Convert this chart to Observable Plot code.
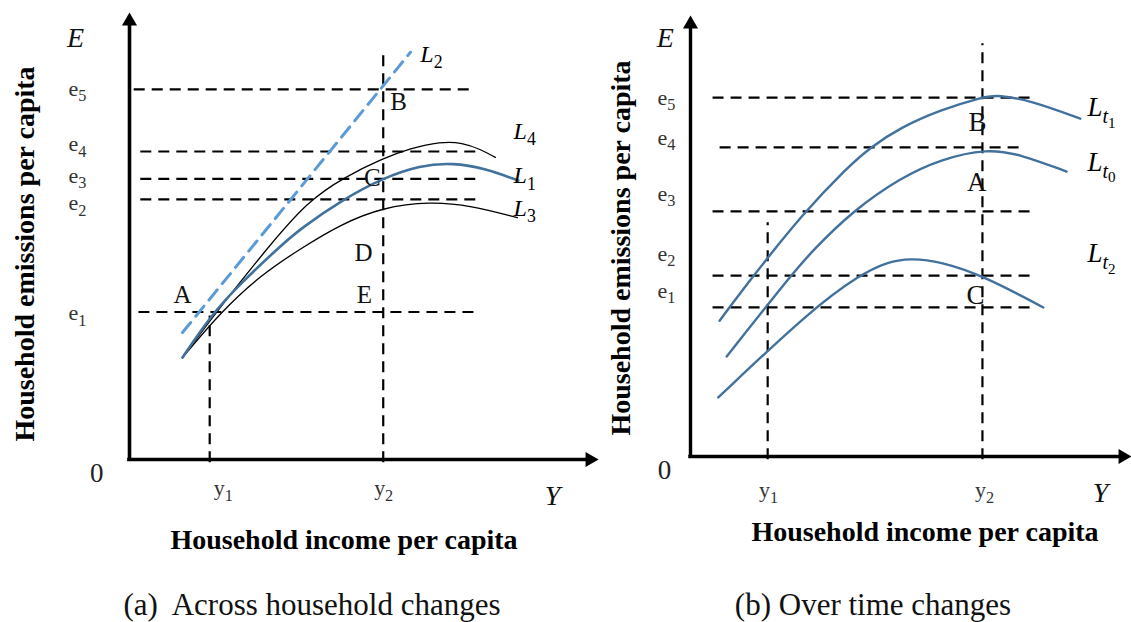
<!DOCTYPE html>
<html>
<head>
<meta charset="utf-8">
<script src="https://cdn.jsdelivr.net/npm/d3@7"></script>
<script src="https://cdn.jsdelivr.net/npm/@observablehq/plot@0.6"></script>
<style>
  body { margin: 0; background: #fff; }
  #root { position: relative; width: 1131px; height: 622px; overflow: hidden; font-family: "Liberation Serif", "DejaVu Serif", serif; color: #000; }
  .panel { position: absolute; top: 0; }
  .panel svg { overflow: visible; }
  .title { position: absolute; font-weight: bold; font-size: 28px; white-space: nowrap; transform: translate(-50%, -50%); line-height: 1; }
  .ytitle { position: absolute; font-weight: bold; font-size: 28px; white-space: nowrap; transform: translate(-50%, -50%) rotate(-90deg); line-height: 1; }
  .caption { position: absolute; font-size: 31px; white-space: pre; transform: translate(-50%, -50%); line-height: 1; color: #111; }
</style>
</head>
<body>
<div id="root"></div>
<script>
// ---------- Panel (a): across household changes ----------
const aLevelNames = ["e_1", "e_2", "e_3", "e_4", "e_5"];
const aLevels = [3.30, 5.82, 6.28, 6.89, 8.28];
const aLevelLabelPos = [3.27, 5.73, 6.35, 7.05, 8.30];
const aLevelStart = [0.19, 0.23, 0.23, 0.23, 0.09];
const aLevelEnd = [7.44, 7.44, 7.44, 7.44, 7.38];
const aIncome = [1.71, 5.41];
const aIncomeTop = [3.22, 9.19];
const aXTickPos = [2.00, 5.42];
const aXTickNames = ["y_1", "y_2"];
const aL2 = [[1.13, 2.84], [5.99, 9.11]];
const aL1 = [[1.13, 2.28], [1.73, 3.22], [2.37, 3.94], [3.16, 4.72], [3.65, 5.17], [4.56, 5.82], [5.39, 6.29], [6.20, 6.58], [6.89, 6.64], [7.59, 6.51], [8.29, 6.24]];
const aL4 = [[1.13, 2.28], [1.83, 3.27], [2.86, 4.63], [3.80, 5.79], [4.61, 6.33], [5.39, 6.73], [5.99, 6.96], [6.63, 7.11], [7.10, 7.09], [7.48, 6.94], [7.80, 6.76]];
const aL3 = [[1.13, 2.28], [1.94, 3.29], [2.79, 4.12], [3.65, 4.72], [4.50, 5.26], [5.39, 5.64], [6.42, 5.77], [7.27, 5.68], [8.27, 5.41]];
const aPointNames = ["A", "B", "C", "D", "E"];
const aPointX = [1.13, 5.74, 5.18, 4.99, 5.01];
const aPointY = [3.67, 7.99, 6.29, 4.63, 3.67];
const aCurveNames = ["L_2", "L_4", "L_1", "L_3"];
const aCurveLabelX = [6.20, 8.19, 8.19, 8.19];
const aCurveLabelY = [9.06, 7.34, 6.35, 5.62];
const aAxisNames = ["E", "Y"];
const aAxisNameX = [-1.15, 9.02];
const aAxisNameY = [9.42, -0.81];
const aOriginX = [-0.70];
const aOriginY = [-0.31];

// ---------- Panel (b): over time changes ----------
const bLevelNames = ["e_1", "e_2", "e_3", "e_4", "e_5"];
const bLevels = [3.38, 4.10, 5.56, 7.01, 8.14];
const bLevelLabelPos = [3.76, 4.60, 5.96, 7.23, 8.14];
const bLevelStart = [0.50, 0.50, 0.50, 0.66, 0.50];
const bLevelEnd = [7.76, 7.76, 7.76, 7.53, 7.76];
const bIncome = [1.75, 6.62];
const bIncomeTop = [5.31, 9.37];
const bXTickPos = [1.77, 6.67];
const bXTickNames = ["y_1", "y_2"];
const bLt1 = [[0.66, 3.08], [1.41, 4.08], [2.56, 5.52], [3.55, 6.55], [4.08, 7.01], [4.76, 7.46], [5.67, 7.86], [6.62, 8.15], [6.98, 8.20], [7.71, 8.07], [8.84, 7.66]];
const bLt0 = [[0.82, 2.27], [2.27, 4.10], [2.77, 4.67], [3.67, 5.56], [4.76, 6.32], [5.67, 6.74], [6.73, 6.98], [7.48, 6.85], [8.53, 6.46]];
const bLt2 = [[0.63, 1.34], [2.77, 3.36], [3.85, 4.12], [4.42, 4.40], [4.99, 4.50], [5.67, 4.42], [6.64, 4.10], [8.00, 3.38]];
const bPointNames = ["B", "A", "C"];
const bPointX = [6.51, 6.49, 6.46];
const bPointY = [7.57, 6.21, 3.65];
const bCurveNames = ["L_t_1", "L_t_0", "L_t_2"];
const bCurveLabelX = [9.00, 9.00, 9.00];
const bCurveLabelY = [7.91, 6.67, 4.60];
const bAxisNames = ["E", "Y"];
const bAxisNameX = [-0.57, 9.30];
const bAxisNameY = [9.50, -0.82];
const bOriginX = [-0.59];
const bOriginY = [-0.32];

const axisMax = 10;
const blueDark = "#41719c";
const blueLight = "#5b9bd5";
const serif = "Liberation Serif";

function panelMarks(cfg) {
  const levelMap = new Map(cfg.levelLabelPos.map((v, i) => [v, cfg.levelNames[i]]));
  const xTickMap = new Map(cfg.xTickPos.map((v, i) => [v, cfg.xTickNames[i]]));
  return [
    Plot.link(cfg.levels, {
      x1: (d, i) => cfg.levelStart[i], x2: (d, i) => cfg.levelEnd[i],
      y1: d => d, y2: d => d,
      stroke: "#000", strokeWidth: 2.2, strokeDasharray: "11,7"
    }),
    Plot.link(cfg.income, {
      x1: d => d, x2: d => d, y1: () => -0.06, y2: (d, i) => cfg.incomeTop[i],
      stroke: "#000", strokeWidth: 2.2, strokeDasharray: "11,7"
    }),
    ...cfg.curves,
    Plot.ruleX([0], {y1: 0, y2: axisMax - 0.25, stroke: "#000", strokeWidth: cfg.axisWidth}),
    Plot.ruleY([0], {x1: -0.04, x2: axisMax - 0.25, stroke: "#000", strokeWidth: cfg.axisWidth}),
    Plot.dot([axisMax], {x: () => 0, y: d => d, symbol: "triangle", r: 5.6, fill: "#000", stroke: "none", dy: 8.6}),
    Plot.dot([axisMax], {x: d => d, y: () => 0, symbol: "triangle", r: 5.6, fill: "#000", stroke: "none", rotate: 90, dx: -8.6}),
    Plot.axisY(cfg.levelLabelPos, {
      tickSize: 0, tickPadding: cfg.yPad, tickFormat: d => levelMap.get(d),
      fontSize: 22, fontFamily: serif, color: "#333", label: null
    }),
    Plot.axisX(cfg.xTickPos, {
      tickSize: 0, tickPadding: cfg.xPad, tickFormat: d => xTickMap.get(d),
      fontSize: 22, fontFamily: serif, color: "#333", label: null
    }),
    Plot.text(cfg.pointNames, {
      x: (d, i) => cfg.pointX[i], y: (d, i) => cfg.pointY[i], text: d => d,
      fontSize: cfg.pointSize, fontFamily: serif, fill: "#111"
    }),
    Plot.text(cfg.curveNames, {
      x: (d, i) => cfg.curveLabelX[i], y: (d, i) => cfg.curveLabelY[i], text: d => d,
      textAnchor: "start", fontSize: cfg.curveSize, fontFamily: serif, fontStyle: "italic", fill: "#000"
    }),
    Plot.text(cfg.axisNames, {
      x: (d, i) => cfg.axisNameX[i], y: (d, i) => cfg.axisNameY[i], text: d => d,
      fontSize: 28, fontFamily: serif, fontStyle: "italic", fill: "#111"
    }),
    Plot.text(["0"], {
      x: (d, i) => cfg.originX[i], y: (d, i) => cfg.originY[i], text: d => d,
      fontSize: 27, fontFamily: serif, fill: "#222"
    })
  ];
}

function subscripts(svg) {
  d3.select(svg).selectAll("text").each(function () {
    const s = this.textContent;
    if (!s || !s.includes("_")) return;
    const parts = s.split("_");
    const base = parseFloat(getComputedStyle(this).fontSize) || 20;
    const sel = d3.select(this);
    sel.text(null);
    sel.append("tspan").text(parts[0]);
    const sizes = [1, 0.74, 0.56];
    const shifts = [0, 0.26, 0.16];
    for (let k = 1; k < parts.length; k++) {
      const letter = /[a-z]/i.test(parts[k]);
      sel.append("tspan")
        .attr("font-size", (base * sizes[k]).toFixed(1))
        .attr("dy", (base * shifts[k]).toFixed(1))
        .attr("font-style", letter && parts[0] === "L" ? "italic" : "normal")
        .text(parts[k]);
    }
  });
}

const curveType = "basis";
const plotA = Plot.plot({
  width: 600, height: 510,
  marginLeft: 129, marginRight: 2, marginTop: 12, marginBottom: 51,
  x: {domain: [0, axisMax]}, y: {domain: [0, axisMax]},
  style: {fontFamily: serif, background: "transparent", overflow: "visible"},
  marks: panelMarks({
    levels: aLevels, levelStart: aLevelStart, levelEnd: aLevelEnd,
    levelLabelPos: aLevelLabelPos, levelNames: aLevelNames,
    income: aIncome, incomeTop: aIncomeTop,
    xTickPos: aXTickPos, xTickNames: aXTickNames,
    pointNames: aPointNames, pointX: aPointX, pointY: aPointY, pointSize: 25,
    curveNames: aCurveNames, curveLabelX: aCurveLabelX, curveLabelY: aCurveLabelY, curveSize: 24,
    axisNames: aAxisNames, axisNameX: aAxisNameX, axisNameY: aAxisNameY,
    originX: aOriginX, originY: aOriginY,
    yPad: 43, xPad: 20, axisWidth: 3.6,
    curves: [
      Plot.line(aL3, {x: d => d[0], y: d => d[1], curve: curveType, stroke: "#000", strokeWidth: 1.3}),
      Plot.line(aL4, {x: d => d[0], y: d => d[1], curve: curveType, stroke: "#000", strokeWidth: 1.3}),
      Plot.line(aL1, {x: d => d[0], y: d => d[1], curve: curveType, stroke: blueDark, strokeWidth: 2.6}),
      Plot.line(aL2, {x: d => d[0], y: d => d[1], stroke: blueLight, strokeWidth: 3, strokeDasharray: "13,8"})
    ]
  })
});

const plotB = Plot.plot({
  width: 531, height: 510,
  marginLeft: 90, marginRight: 0, marginTop: 15, marginBottom: 54,
  x: {domain: [0, axisMax]}, y: {domain: [0, axisMax]},
  style: {fontFamily: serif, background: "transparent", overflow: "visible"},
  marks: panelMarks({
    levels: bLevels, levelStart: bLevelStart, levelEnd: bLevelEnd,
    levelLabelPos: bLevelLabelPos, levelNames: bLevelNames,
    income: bIncome, incomeTop: bIncomeTop,
    xTickPos: bXTickPos, xTickNames: bXTickNames,
    pointNames: bPointNames, pointX: bPointX, pointY: bPointY, pointSize: 27,
    curveNames: bCurveNames, curveLabelX: bCurveLabelX, curveLabelY: bCurveLabelY, curveSize: 27,
    axisNames: bAxisNames, axisNameX: bAxisNameX, axisNameY: bAxisNameY,
    originX: bOriginX, originY: bOriginY,
    yPad: 15, xPad: 25, axisWidth: 3.4,
    curves: [
      Plot.line(bLt1, {x: d => d[0], y: d => d[1], curve: curveType, stroke: blueDark, strokeWidth: 2.4}),
      Plot.line(bLt0, {x: d => d[0], y: d => d[1], curve: curveType, stroke: blueDark, strokeWidth: 2.4}),
      Plot.line(bLt2, {x: d => d[0], y: d => d[1], curve: curveType, stroke: blueDark, strokeWidth: 2.4})
    ]
  })
});

const root = document.getElementById("root");
function addPanel(svg, left) {
  const div = document.createElement("div");
  div.className = "panel";
  div.style.left = left + "px";
  div.appendChild(svg);
  root.appendChild(div);
  subscripts(svg);
}
addPanel(plotA, 0);
addPanel(plotB, 600);

function addText(cls, text, cx, cy) {
  const d = document.createElement("div");
  d.className = cls;
  d.textContent = text;
  d.style.left = cx + "px";
  d.style.top = cy + "px";
  root.appendChild(d);
}
const xTitle = "Household income per capita";
const yTitle = "Household emissions per capita";
addText("title", xTitle, 344, 540);
addText("title", xTitle, 925, 532);
addText("ytitle", yTitle, 25, 254);
addText("ytitle", yTitle, 621, 248);
addText("caption", "(a)  Across household changes", 312, 604);
addText("caption", "(b) Over time changes", 873, 604);
</script>
</body>
</html>
